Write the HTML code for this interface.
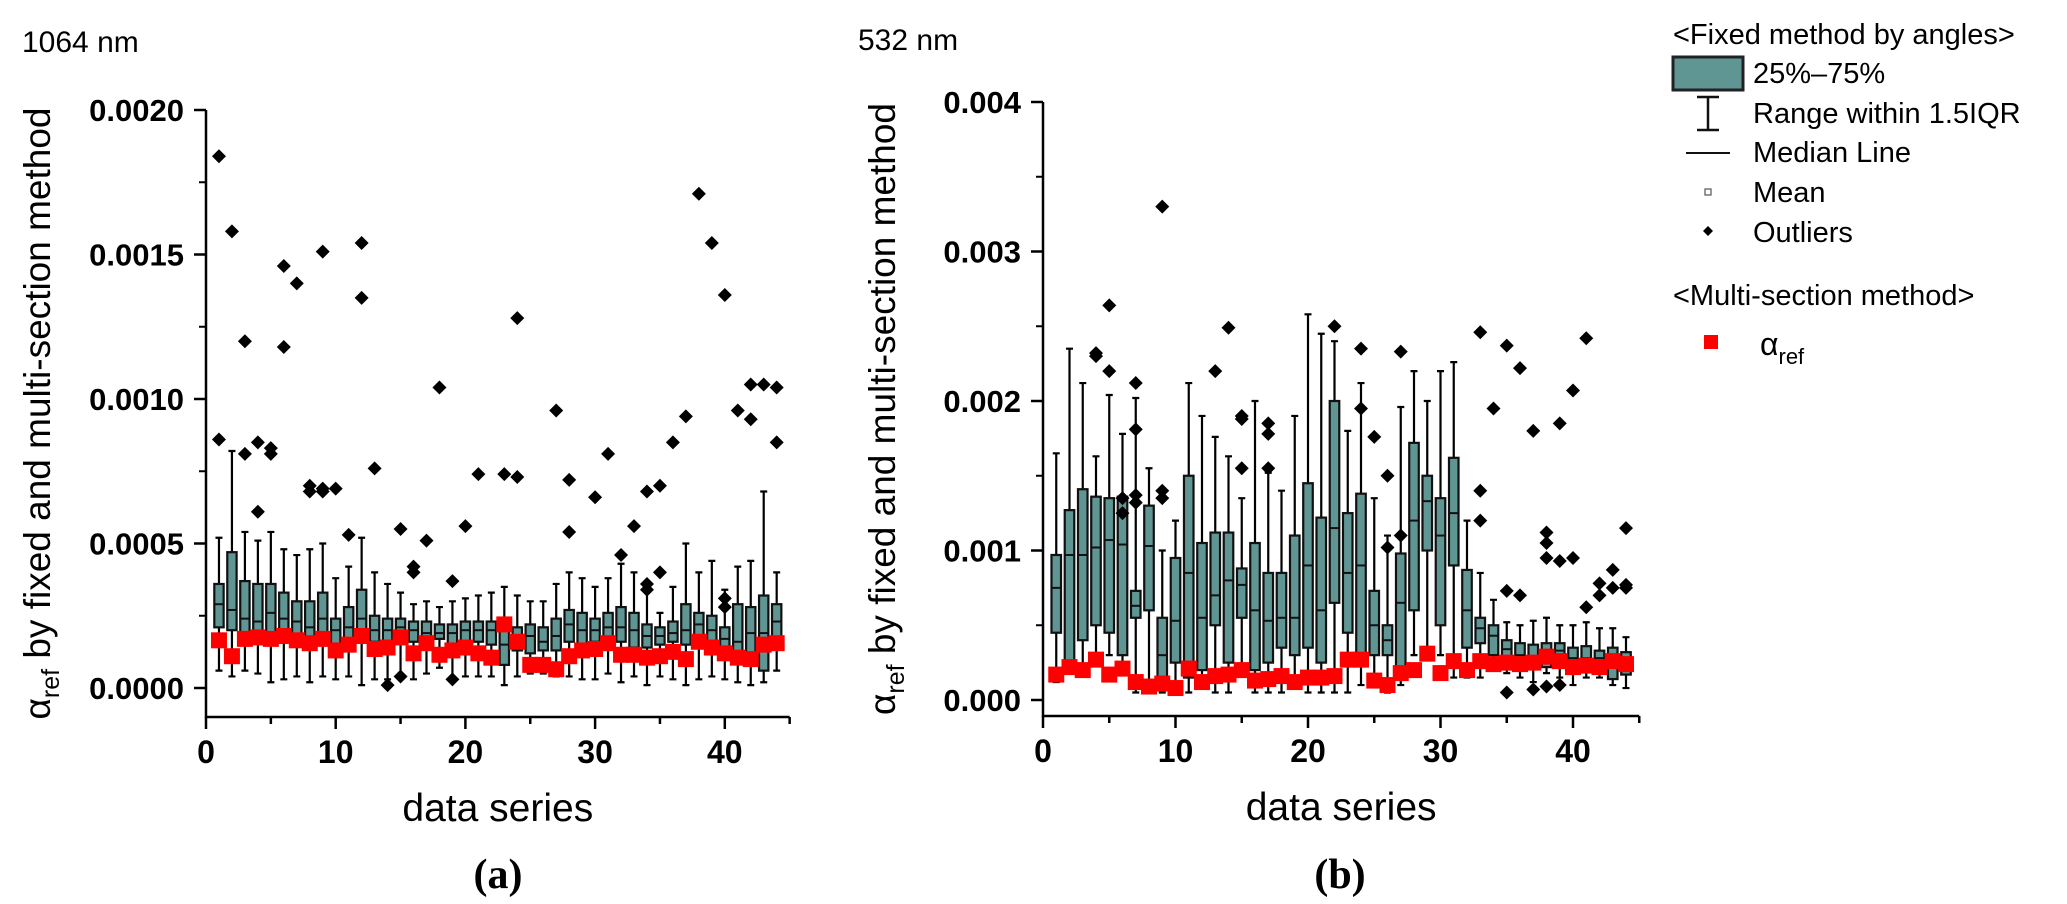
<!DOCTYPE html>
<html><head><meta charset="utf-8"><style>
html,body{margin:0;padding:0;background:#fff;}
svg{display:block;font-family:"Liberation Sans",Arial,sans-serif;}
</style></head><body>
<svg id="fig" width="2067" height="904" viewBox="0 0 2067 904" xmlns="http://www.w3.org/2000/svg">
<g id="pa"></g>
<g id="pb"></g>
<g id="legend">
 <text x="1673" y="44" font-size="29">&lt;Fixed method by angles&gt;</text>
 <rect x="1673" y="57" width="70" height="33" fill="#5f9593" stroke="#222" stroke-width="3"/>
 <text x="1753" y="83" font-size="29">25%–75%</text>
 <path d="M1697 97H1719M1708 97V130M1697 130H1719" stroke="#111" stroke-width="2.5" fill="none"/>
 <text x="1753" y="123" font-size="29">Range within 1.5IQR</text>
 <line x1="1686" y1="153" x2="1730" y2="153" stroke="#111" stroke-width="2"/>
 <text x="1753" y="162" font-size="29">Median Line</text>
 <rect x="1705" y="189" width="6" height="6" fill="#fff" stroke="#555" stroke-width="1.2"/>
 <text x="1753" y="202" font-size="29">Mean</text>
 <path d="M1708 226L1713 231L1708 236L1703 231Z" fill="#000"/>
 <text x="1753" y="242" font-size="29">Outliers</text>
 <text x="1673" y="305" font-size="29">&lt;Multi-section method&gt;</text>
 <rect x="1704" y="335" width="14" height="14" fill="#ff0000"/>
 <text x="1760" y="355" font-size="32">α<tspan font-size="22" dy="9">ref</tspan></text>
</g>
<text x="22" y="52" font-size="30">1064 nm</text>
<text x="858" y="50" font-size="30">532 nm</text>
<text x="498" y="888" font-size="42" font-weight="bold" text-anchor="middle" font-family="Liberation Serif,serif">(a)</text>
<text x="1340" y="888" font-size="42" font-weight="bold" text-anchor="middle" font-family="Liberation Serif,serif">(b)</text>
</svg>
<script>
// Panel (a) 1064 nm, values in units of 1e-4
const aQ1  =[2.1,2.0,1.9,1.8,1.9,1.6,1.8,1.6,1.7,1.5,1.6,1.8,1.6,1.5,1.7,1.6,1.6,1.7,1.5,1.6,1.6,1.5,0.8,1.3,1.2,1.3,1.3,1.6,1.5,1.6,1.5,1.6,1.4,1.4,1.5,1.6,1.5,1.6,1.3,1.2,1.1,1.0,0.6,1.6];
const aMed =[2.9,2.7,2.4,2.3,2.6,2.4,2.3,2.1,2.4,2.0,2.1,2.4,2.0,2.0,2.1,2.0,1.9,1.9,1.9,2.0,2.0,2.0,1.5,1.7,1.8,1.6,1.8,2.2,2.0,2.0,2.1,2.1,2.0,1.8,1.8,1.9,2.0,2.2,2.0,1.7,1.6,1.9,1.9,2.3];
const aQ3  =[3.6,4.7,3.7,3.6,3.6,3.3,3.0,3.0,3.3,2.4,2.8,3.4,2.5,2.4,2.4,2.3,2.3,2.2,2.2,2.3,2.3,2.3,2.2,2.1,2.2,2.1,2.4,2.7,2.6,2.4,2.6,2.8,2.6,2.2,2.1,2.3,2.9,2.6,2.5,2.1,2.9,2.8,3.2,2.9];
const aLo  =[0.6,0.4,0.6,0.5,0.2,0.3,0.4,0.2,0.4,0.3,0.4,0.1,0.3,0.3,0.4,0.3,0.5,0.7,0.3,0.4,0.4,0.4,0.1,0.4,0.5,0.5,0.4,0.4,0.3,0.3,0.5,0.2,0.4,0.1,0.4,0.3,0.1,0.3,0.4,0.3,0.2,0.1,0.2,0.6];
const aHi  =[5.2,8.2,5.4,5.1,5.4,4.8,4.6,4.8,5.0,3.8,4.2,5.2,4.0,3.6,3.3,2.9,3.0,2.8,3.0,3.1,3.2,3.3,3.5,3.2,3.0,3.0,3.6,4.0,3.8,3.5,3.8,4.3,4.0,3.5,2.6,3.5,5.0,4.0,4.4,3.4,4.2,4.4,6.8,4.0];
const aRef =[1.65,1.1,1.7,1.75,1.7,1.8,1.65,1.55,1.7,1.3,1.5,1.8,1.35,1.4,1.75,1.2,1.55,1.15,1.3,1.4,1.2,1.05,2.2,1.6,0.8,0.8,0.65,1.1,1.3,1.35,1.55,1.15,1.15,1.05,1.1,1.25,1.0,1.6,1.4,1.2,1.05,1.0,1.5,1.55];
const aOutX=[1,1,2,3,3,4,4,5,5,6,6,7,8,8,9,9,9,10,11,12,12,13,14,15,15,16,16,17,18,19,19,20,21,23,24,24,26,27,28,28,30,31,32,33,34,34,34,35,35,36,37,38,39,40,40,40,41,42,42,43,44,44];
const aOutY=[18.4,8.6,15.8,12.0,8.1,8.5,6.1,8.3,8.1,14.6,11.8,14.0,7.0,6.8,15.1,6.9,6.8,6.9,5.3,15.4,13.5,7.6,0.1,5.5,0.4,4.2,4.0,5.1,10.4,3.7,0.3,5.6,7.4,7.4,12.8,7.3,0.8,9.6,7.2,5.4,6.6,8.1,4.6,5.6,6.8,3.6,3.4,7.0,4.0,8.5,9.4,17.1,15.4,13.6,3.1,2.8,9.6,9.3,10.5,10.5,10.4,8.5];
const aYTicks=[0,5,10,15,20];
const aYLabels=["0.0000","0.0005","0.0010","0.0015","0.0020"];
// Panel (b) 532 nm, values in units of 1e-3
const bQ1  =[0.45,0.25,0.4,0.5,0.45,0.3,0.55,0.6,0.1,0.25,0.15,0.2,0.5,0.25,0.55,0.2,0.25,0.35,0.3,0.35,0.25,0.65,0.45,0.3,0.3,0.3,0.2,0.6,1.0,0.5,0.9,0.35,0.38,0.3,0.28,0.22,0.22,0.22,0.22,0.22,0.2,0.22,0.14,0.17];
const bMed =[0.75,0.97,0.97,1.02,1.07,1.04,0.63,1.03,0.3,0.53,0.85,0.55,0.7,0.8,0.77,0.6,0.53,0.55,0.55,0.9,0.6,1.15,0.85,0.9,0.5,0.4,0.65,1.2,1.33,1.1,1.25,0.6,0.48,0.43,0.34,0.3,0.28,0.32,0.33,0.28,0.28,0.28,0.25,0.25];
const bQ3  =[0.97,1.27,1.41,1.36,1.35,1.36,0.73,1.3,0.55,0.95,1.5,1.05,1.12,1.12,0.88,1.05,0.85,0.85,1.1,1.45,1.22,2.0,1.25,1.38,0.73,0.5,0.98,1.72,1.5,1.35,1.62,0.87,0.55,0.5,0.4,0.38,0.37,0.38,0.38,0.35,0.36,0.33,0.35,0.32];
const bLo  =[0.12,0.18,0.18,0.3,0.3,0.2,0.05,0.1,0.05,0.1,0.05,0.1,0.05,0.05,0.2,0.05,0.05,0.05,0.1,0.05,0.05,0.05,0.05,0.1,0.15,0.05,0.1,0.3,0.3,0.3,0.15,0.15,0.15,0.2,0.18,0.15,0.12,0.18,0.15,0.1,0.15,0.15,0.1,0.08];
const bHi  =[1.65,2.35,2.12,1.63,2.04,1.78,2.02,1.55,1.0,1.2,2.12,1.9,1.76,1.63,1.35,2.0,1.52,1.4,1.9,2.58,2.45,2.4,1.8,2.12,1.35,1.1,1.96,2.2,2.0,2.2,2.26,1.2,0.85,0.67,0.52,0.5,0.53,0.55,0.5,0.5,0.52,0.48,0.48,0.42];
const bRef =[0.17,0.22,0.2,0.27,0.17,0.21,0.12,0.09,0.11,0.08,0.21,0.12,0.16,0.17,0.2,0.13,0.14,0.16,0.12,0.15,0.15,0.16,0.27,0.27,0.13,0.1,0.18,0.2,0.31,0.18,0.26,0.2,0.26,0.24,0.25,0.24,0.25,0.29,0.26,0.22,0.23,0.22,0.26,0.24];
const bOutX=[4,4,5,5,6,6,7,7,7,7,9,9,9,13,14,15,15,15,17,17,17,22,24,24,25,26,26,27,27,33,33,33,34,35,35,35,36,36,37,37,38,38,38,38,39,39,39,40,40,41,41,42,42,43,43,44,44,44];
const bOutY=[2.32,2.3,2.64,2.2,1.35,1.25,2.12,1.81,1.37,1.32,3.3,1.4,1.35,2.2,2.49,1.9,1.88,1.55,1.85,1.78,1.55,2.5,2.35,1.95,1.76,1.02,1.5,2.33,1.1,2.46,1.4,1.2,1.95,2.37,0.73,0.05,2.22,0.7,1.8,0.07,1.12,1.05,0.95,0.09,1.85,0.93,0.1,2.07,0.95,2.42,0.62,0.78,0.7,0.87,0.75,1.15,0.77,0.75];
const bYTicks=[0,1,2,3,4];
const bYLabels=["0.000","0.001","0.002","0.003","0.004"];
const xTicks=[0,10,20,30,40];
const xLabels=["0","10","20","30","40"];

const NS="http://www.w3.org/2000/svg";
function mk(parent,tag,attrs){const e=document.createElementNS(NS,tag);for(const k in attrs)e.setAttribute(k,attrs[k]);parent.appendChild(e);return e;}

function panel(g,cfg,q1,med,q3,lo,hi,ref,ox,oy,yt,yl,name){
  const X=v=>cfg.x0+v*cfg.kx, Y=v=>cfg.y0-v*cfg.ky;
  const left=cfg.x0, right=X(45), top=Y(cfg.ymax), bot=cfg.bottom;
  let ax=mk(g,'path',{d:`M${left} ${top}V${bot}H${right}`,stroke:'#000','stroke-width':2.5,fill:'none'});
  
  
  for(let i=0;i<yt.length;i++){
    const y=Y(yt[i]);
    let t=mk(g,'line',{x1:left-12,y1:y,x2:left,y2:y,stroke:'#000','stroke-width':2.5});
    
    
    let lb=mk(g,'text',{x:left-22,y:y+11,'font-size':31,'font-weight':'bold','text-anchor':'end'});
    lb.textContent=yl[i];
    
    
    if(i<yt.length-1){
      const ym=Y((yt[i]+yt[i+1])/2);
      let m=mk(g,'line',{x1:left-7,y1:ym,x2:left,y2:ym,stroke:'#000','stroke-width':2});
      
      
    }
  }
  for(let v=0;v<=45;v+=5){
    const x=X(v), major=(v%10===0);
    let t=mk(g,'line',{x1:x,y1:bot,x2:x,y2:bot+(major?12:7),stroke:'#000','stroke-width':2.5});
    
    
  }
  for(let i=0;i<xTicks.length;i++){
    let lb=mk(g,'text',{x:X(xTicks[i]),y:bot+46,'font-size':32,'font-weight':'bold','text-anchor':'middle'});
    lb.textContent=xLabels[i];
    
    
  }
  let xt=mk(g,'text',{x:(left+right)/2,y:bot+104,'font-size':39,'text-anchor':'middle'});
  xt.textContent='data series';
  
  
  const cy=(top+bot)/2;
  let yt2=mk(g,'text',{x:cfg.titleX,y:cy,'font-size':37,'text-anchor':'middle',transform:`rotate(-90 ${cfg.titleX} ${cy})`});
  yt2.innerHTML='α<tspan font-size="25" dy="9">ref</tspan><tspan dy="-9"> by fixed and multi-section method</tspan>';
  
  
  const bw=cfg.kx*0.72;
  for(let i=0;i<q1.length;i++){
    const x=X(i+1);
    let w=mk(g,'path',{d:`M${x-3.5} ${Y(hi[i])}H${x+3.5}M${x} ${Y(hi[i])}V${Y(lo[i])}M${x-3.5} ${Y(lo[i])}H${x+3.5}`,stroke:'#000','stroke-width':2.2,fill:'none'});
    
    
    let b=mk(g,'rect',{x:x-bw/2,y:Y(q3[i]),width:bw,height:Math.max(1,Y(q1[i])-Y(q3[i])),fill:'#5f9593',stroke:'#111','stroke-width':2.2});
    
    
    let m=mk(g,'line',{x1:x-bw/2,y1:Y(med[i]),x2:x+bw/2,y2:Y(med[i]),stroke:'#111','stroke-width':2});
    
    
  }
  for(let i=0;i<ox.length;i++){
    const x=X(ox[i]),y=Y(oy[i]);
    let d=mk(g,'path',{d:`M${x} ${y-7}L${x+7} ${y}L${x} ${y+7}L${x-7} ${y}Z`,fill:'#000'});
    
    
  }
  for(let i=0;i<ref.length;i++){
    const x=X(i+1),y=Y(ref[i]);
    let r=mk(g,'rect',{x:x-8,y:y-8,width:16,height:16,fill:'#ff0000'});
    
    
  }
}
panel(document.getElementById('pa'),{x0:206,kx:12.97,y0:688,ky:28.9,ymax:20,bottom:717,titleX:50},aQ1,aMed,aQ3,aLo,aHi,aRef,aOutX,aOutY,aYTicks,aYLabels,'a');
panel(document.getElementById('pb'),{x0:1043,kx:13.25,y0:700,ky:149.5,ymax:4,bottom:716,titleX:895},bQ1,bMed,bQ3,bLo,bHi,bRef,bOutX,bOutY,bYTicks,bYLabels,'b');
</script>
</body></html>
